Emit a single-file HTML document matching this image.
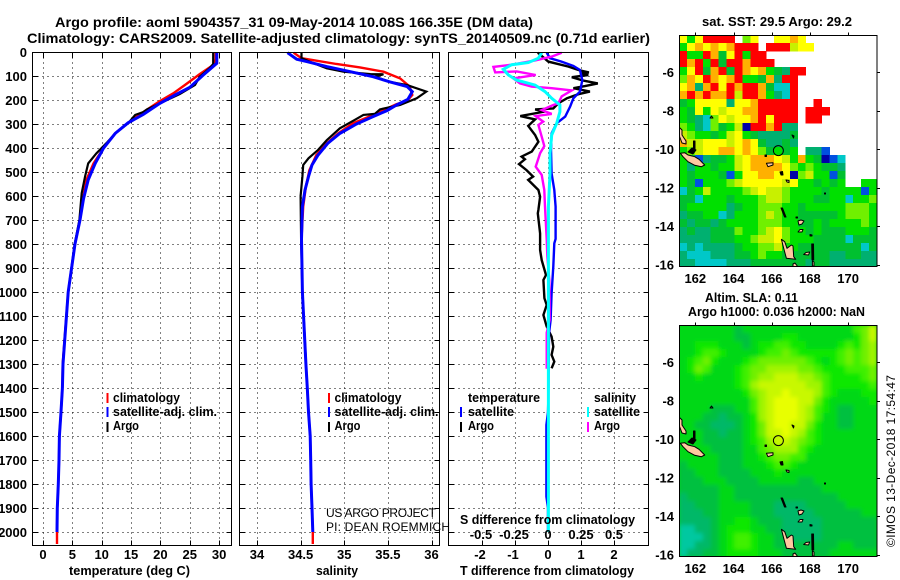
<!DOCTYPE html>
<html>
<head>
<meta charset="utf-8">
<title>Argo profile chart</title>
<style>
html,body{margin:0;padding:0;background:#fff;}
svg{display:block;}
text{font-family:"Liberation Sans",sans-serif;fill:#000;}
.b{font-weight:bold;font-size:13px;}
.t{font-weight:normal;font-size:12px;}
</style>
</head>
<body>
<svg id="chart" xmlns="http://www.w3.org/2000/svg" width="900" height="580" viewBox="0 0 900 580">
<defs>
<clipPath id="clip-map1"><rect x="679" y="35" width="198" height="232"/></clipPath>
<clipPath id="clip-map2"><rect x="679" y="325" width="198" height="232"/></clipPath>
<filter id="soft" x="-5%" y="-5%" width="110%" height="110%"><feGaussianBlur stdDeviation="2"/></filter>
<g id="islands" stroke="#000" stroke-width="1" fill="#ffc8a0" stroke-linejoin="round">
<polygon points="0,92 3,95 3,100 7,106 7,109 3,108 0,100"/>
<polygon points="1.4,118.3 5.7,117.7 9,120 15.7,121.7 20,124.3 25.7,130 22.4,131.7 15.7,130.3 9,126.7 4,121.7"/>
<polygon points="14.5,106 16,106 16,115 14.5,115" fill="#000"/>
<polygon points="9,117 13,113 17,115 14,119" fill="#000"/>
<polygon points="31,83 32.5,81 34,83" fill="none"/>
<polygon points="87.4,128.3 94,127.7 94,130 89,131.7"/>
<polygon points="86,120 87.5,120 87.5,121.5 86,121.5" fill="#000"/>
<polygon points="101,137 103.5,136.5 104,140 102,140" fill="#000"/>
<polygon points="107,145 110,145.5 110,147.5 108,147"/>
<polygon points="113,100 115,101 114.5,103" fill="#000"/>
<polygon points="145.5,158 146.5,158 146.5,159 145.5,159" fill="#000"/>
<polygon points="102,173 103.5,173 107,182 105.5,182" fill="#000"/>
<polygon points="117,182 118.5,182 118.5,183 117,183" fill="#000"/>
<polygon points="119,186 122,185 125,186 123,189 120,190"/>
<polygon points="119,197 121,194.5 124,194.5 123,197"/>
<polygon points="131,199.5 133,200 133,201 131,201" fill="#000"/>
<polygon points="102.4,204.3 105.7,206.7 108,213.3 112.4,210 114,211 114.7,221.7 116.7,224.3 107.4,223.3 104.7,213.3"/>
<polygon points="124.7,219.5 127,217.5 130.7,217 129.5,220"/>
<polygon points="132.7,209 134.5,209 134.7,225 133,225" fill="#000"/>
<polygon points="114,229 116,228 119,232 114,233"/>
<polygon points="133.4,226 135,227 135,231 133.4,231"/>
</g>
</defs>

<rect x="0" y="0" width="900" height="580" fill="#fff"/>

<g>
<text class="b" x="55" y="27" textLength="478" lengthAdjust="spacingAndGlyphs" style="font-size:14px">Argo profile: aoml 5904357_31 09-May-2014 10.08S 166.35E (DM data)</text>
<text class="b" x="27" y="43" textLength="623" lengthAdjust="spacingAndGlyphs" style="font-size:14px">Climatology: CARS2009. Satellite-adjusted climatology: synTS_20140509.nc (0.71d earlier)</text>
</g>

<g id="panel-t"></g>
<g id="panel-s"></g>
<g id="panel-d"></g>
<g id="map1"></g>
<g id="map2"></g>

<g><text class="b" x="69" y="575" textLength="121" lengthAdjust="spacingAndGlyphs">temperature (deg C)</text></g>
<g><text class="b" x="316" y="575" textLength="42" lengthAdjust="spacingAndGlyphs">salinity</text></g>
<g><text class="b" x="460" y="575" textLength="174" lengthAdjust="spacingAndGlyphs">T difference from climatology</text></g>
<g><text class="b" x="460" y="524" textLength="175" lengthAdjust="spacingAndGlyphs">S difference from climatology</text></g>

<g>
<rect x="106.5" y="393" width="2" height="10" fill="#ff0000"/>
<text class="b" x="113" y="402" textLength="67" lengthAdjust="spacingAndGlyphs">climatology</text>
<rect x="106.5" y="407" width="2" height="10" fill="#0000ff"/>
<text class="b" x="113" y="416" textLength="104" lengthAdjust="spacingAndGlyphs">satellite-adj. clim.</text>
<rect x="106.5" y="422" width="2" height="10" fill="#000"/>
<text class="b" x="113" y="430" textLength="26" lengthAdjust="spacingAndGlyphs">Argo</text>
</g>
<g>
<rect x="328" y="393" width="2" height="10" fill="#ff0000"/>
<text class="b" x="334.5" y="402" textLength="67" lengthAdjust="spacingAndGlyphs">climatology</text>
<rect x="328" y="407" width="2" height="10" fill="#0000ff"/>
<text class="b" x="334.5" y="416" textLength="104" lengthAdjust="spacingAndGlyphs">satellite-adj. clim.</text>
<rect x="328" y="422" width="2" height="10" fill="#000"/>
<text class="b" x="334.5" y="430" textLength="26" lengthAdjust="spacingAndGlyphs">Argo</text>
</g>
<g>
<text class="b" x="468" y="402" textLength="72" lengthAdjust="spacingAndGlyphs">temperature</text>
<text class="b" x="594" y="402" textLength="42" lengthAdjust="spacingAndGlyphs">salinity</text>
<rect x="460" y="407" width="2" height="10" fill="#0000ff"/>
<text class="b" x="468" y="416" textLength="46" lengthAdjust="spacingAndGlyphs">satellite</text>
<rect x="460" y="422" width="2" height="10" fill="#000"/>
<text class="b" x="468" y="430" textLength="26" lengthAdjust="spacingAndGlyphs">Argo</text>
<rect x="587" y="407" width="2" height="10" fill="#00ffff"/>
<text class="b" x="594" y="416" textLength="46" lengthAdjust="spacingAndGlyphs">satellite</text>
<rect x="587" y="422" width="2" height="10" fill="#ff00ff"/>
<text class="b" x="594" y="430" textLength="26" lengthAdjust="spacingAndGlyphs">Argo</text>
</g>

<g>
<text class="t" x="326" y="517" textLength="110" lengthAdjust="spacing">US ARGO PROJECT</text>
<text class="t" x="326" y="531" textLength="124" lengthAdjust="spacing">PI: DEAN ROEMMICH</text>
</g>

<text class="b" x="702" y="26" textLength="150" lengthAdjust="spacingAndGlyphs">sat. SST: 29.5 Argo: 29.2</text>
<text class="b" x="705" y="302" textLength="93" lengthAdjust="spacingAndGlyphs">Altim. SLA: 0.11</text>
<text class="b" x="688" y="316" textLength="177" lengthAdjust="spacingAndGlyphs">Argo h1000: 0.036 h2000: NaN</text>
<text class="t" transform="translate(895,547) rotate(-90)" x="0" y="0" textLength="172" lengthAdjust="spacing">©IMOS 13-Dec-2018 17:54:47</text>
</svg>

<script>
/* axis ticks */
var depthTicks = [0,100,200,300,400,500,600,700,800,900,1000,1100,1200,1300,1400,1500,1600,1700,1800,1900,2000];
var tempTicks = [0,5,10,15,20,25,30];
var salTicks = [34,34.5,35,35.5,36];
var tDiffTicks = [-2,-1,0,1,2];
var sDiffTicks = [-0.5,-0.25,0,0.25,0.5];
var sDiffLabels = ['-0.5','-0.25','0','0.25','0.5'];
var lonTicks = [162,164,166,168,170];
var latTicks = [-6,-8,-10,-12,-14,-16];

/* temperature profiles */
var tempClimDepth = [0,30,54,92,137,172,205,250,295,339,401,464,533,612,700,800,1000,1300,1400,1500,1600,1700,1800,1900,2000,2050];
var tempClim = [29.4,29.4,29,26.7,24.2,22.2,19.9,17.1,14.5,12.3,10.3,8.6,7.4,6.8,6.3,5.45,4.3,3.35,3.3,3.07,2.8,2.73,2.6,2.44,2.38,2.38];
var tempSatDepth = [0,47,96,147,179,214,260,295,339,401,464,533,612,700,800,1000,1300,1400,1500,1600,1700,1800,1900,2000];
var tempSat = [29.6,29.6,27.3,25,22.5,19.9,17.1,14.5,12.3,10.3,8.9,7.7,6.9,6.3,5.45,4.3,3.4,3.3,3.07,2.8,2.73,2.6,2.44,2.38];
var tempArgoDepth = [0,50,67,103,137,175,207,239,250,262,297,339,380,422,464,520,588,700,800,1000,1290];
var tempArgo = [29,29,28.4,26.7,25.9,23.3,20.5,17.7,17.1,15.7,14.5,12.3,10.8,9.1,7.7,7.15,6.6,6.2,5.4,4.3,3.4];

/* salinity profiles */
var salClimDepth = [3,26,33,50,64,82,110,144,179,204,217,242,267,297,339,381,429,492,561,644,780,1000,1300,1400,1500,1600,1700,1800,1900,2000,2050];
var salClim = [34.42,34.51,34.63,34.91,35.18,35.45,35.64,35.75,35.78,35.72,35.6,35.45,35.3,35.1,34.93,34.8,34.68,34.6,34.56,34.53,34.51,34.52,34.56,34.577,34.59,34.61,34.615,34.62,34.63,34.64,34.64];
var salSatDepth = [3,30,40,61,82,103,124,144,165,197,221,244,269,300,339,381,429,471,519,575,644,779,1000,1300,1400,1500,1600,1700,1800,1900,2000];
var salSat = [34.35,34.455,34.57,34.8,35.07,35.33,35.52,35.72,35.78,35.73,35.6,35.49,35.33,35.14,34.95,34.81,34.7,34.63,34.59,34.55,34.52,34.51,34.52,34.56,34.577,34.59,34.61,34.615,34.62,34.63,34.64];
var salArgoDepth = [3,26,44,68,82,92,93,103,124,138,165,193,221,239,258,262,283,318,367,408,443,471,519,600,780,1000,1290];
var salArgo = [34.51,34.51,34.63,34.8,34.99,35.3,35.45,35.35,35.52,35.72,35.94,35.83,35.64,35.41,35.35,35.22,35.12,34.95,34.8,34.7,34.59,34.53,34.52,34.5,34.505,34.52,34.56];

/* differences from climatology */
var dTArgoDepth = [3,40,61,75,85,89,96,105,119,131,142,151,165,176,193,214,235,239,248,267,281,308,346,374,415,436,447,467,492,519,533,575,603,658,672,756,825,867,929,950,1026,1054,1096,1144,1186,1228,1262,1290,1318];
var dTArgo = [-0.31,0.01,0.62,0.92,1.24,0.97,1.22,0.72,1.07,1.51,1.12,0.77,1.27,0.92,0.57,0.31,0.16,-0.39,-0.09,-0.84,-0.39,-0.6,-0.39,-0.29,-0.49,-0.8,-0.7,-0.88,-0.65,-0.45,-0.6,-0.29,-0.24,-0.29,-0.31,-0.24,-0.24,-0.19,-0.06,-0.14,-0.11,-0.04,-0.14,-0.04,0.11,0.16,0.11,0.19,0.11];
var dTSatDepth = [3,26,40,58,75,117,165,193,228,269,297,339,408,506,575,644,779,797,894,1006,1117,1172,1450,1500,1554,1853,1900,2000];
var dTSat = [-0.04,0.06,0.41,0.77,0.97,1.04,0.97,0.77,0.67,0.52,0.26,0.11,0.09,0.11,0.19,0.23,0.23,0.19,0.16,0.11,0.08,0.03,0.01,0,-0.05,-0.05,0,0];
var dSArgoDepth = [3,19,35,53,62,85,81,96,110,131,144,151,160,185,214,221,242,258,267,290,304,353,392,422,478,512,575,644,779,850,950,1030,1117,1170,1320];
var dSArgo = [0.104,0.028,-0.098,-0.275,-0.414,-0.4,-0.237,-0.093,-0.263,-0.212,-0.124,0.028,0.18,0.104,0.078,0.04,-0.048,0.028,-0.093,-0.036,-0.073,-0.048,-0.028,-0.06,-0.093,-0.048,-0.028,-0.023,-0.01,-0.005,0.01,0.012,0.012,-0.01,-0.01];
var dSSatDepth = [3,26,44,53,72,96,117,138,165,193,221,249,297,346,422,506,644,779,2000];
var dSSat = [-0.048,-0.073,-0.149,-0.275,-0.339,-0.3,-0.237,-0.098,-0.023,0.028,0.09,0.09,0.066,0.028,0.015,0.015,0.003,0.003,0.003];

/* sea-surface temperature levels by cell, '.' = no data, a = hottest */
var sstRows = [
"858aaaa.68..8898.........",
"5898989aaa.aaa788........",
"a55a948a5aa..............",
"a9a5a4aa9aaa.............",
"58a49a4a989543aa.........",
"698a989a55493aa..........",
"8939a8a9aa9422a..........",
"9a9a99a7aa9532a..........",
"4588883889aaaaa..a.......",
"5485878899aaaaa.aaa......",
"5432687889a8aaa.aa.......",
"653264570aa9a33..........",
"765545785433334..........",
"977888789843343..........",
"567889989864545.331......",
"541344578999875954012....",
"535545578999986565443....",
"545554158899880675514....",
"541555678888878554545..55",
"2457555567877655554555515",
"4425554555677655544552556",
"4555553455666554555556665",
"3445523555676554444456665",
"4344345555666554454555565",
"3433444655678655454445554",
"3333444556778655544442444",
"2323333455667554444444424",
"3222333445655444444334433",
"3322223334444444344333333"
];
/* sea-level anomaly levels by cell */
var slaRows = [
"3333333233333333333333568",
"3333333223333443333333468",
"3344433323445544333345467",
"3345543333455654444456567",
"3456433345666666543456567",
"3465333456677776654445556",
"3343333456778887765444456",
"3333333457888888775444445",
"3333333346788988875433344",
"3333333335789998864333334",
"3333222335789998754322333",
"3332212234789998753322333",
"3322111234689988643322333",
"3332212234688987543333333",
"3332222234578876543333333",
"3333222233567775433333333",
"3333322233456655333333333",
"2333322233345543333333333",
"2233322223334333333333333",
"2223332222333332233333333",
"2222233222222222223333333",
"1222233222222222222233333",
"1122233332221111222223333",
"1112233332221111122222233",
"1111233443222111112222222",
"0011234443322111112222222",
"0001234554332211112222222",
"0011234554332222222233222",
"0112234444333222222333333"
];
var argoLon = 166.35;
var argoLat = -10.08;

/* colour scales */
var sstColors = ['#0000a8','#0050e0','#00c8c8','#00b070','#00c030','#00e000','#70f000','#c8f000','#ffff00','#ffb000','#ff0000'];
var slaColors = ['#00c8a0','#00b868','#00c040','#00d814','#10e800','#40f000','#70f000','#a0f400','#c8f800','#e8ff00'];

var NS = 'http://www.w3.org/2000/svg';

function tag(kind, name, parent, attrs) {
  var el = document.createElementNS(NS, kind);
  
  
  for (var k in attrs) { el.setAttribute(k, attrs[k]); }
  parent.appendChild(el);
  return el;
}

/* axis functions */
function depthY(d) { return 52 + 0.24 * d; }
function tempX(t) { return 43 + 5.87 * t; }
function salX(s) { return 257 + 87.25 * (s - 34); }
function tDiffX(t) { return 548 + 33 * t; }
function sDiffX(s) { return 548 + 132 * s; }
function lonX(lon) { return 695.3 + 19.1 * (lon - 162); }
function latY1(lat) { return 72 + 19.27 * (-6 - lat); }
function latY2(lat) { return 362 + 19.27 * (-6 - lat); }

function label(parent, name, x, y, txt, anchor) {
  var t = tag('text', name, parent, {x: x, y: y, 'class': 'b', 'text-anchor': anchor});
  t.textContent = txt;
  return t;
}

function panelFrame(g, left, right, xTicks, xFn) {
  var top = 52.5, bottom = 545.5;
  depthTicks.forEach(function (d) {
    var y = Math.round(depthY(d)) + 0.5;
    if (d > 0) {
      tag('line', 'depth-gridline', g, {x1: left, x2: right, y1: y, y2: y, stroke: '#000', 'stroke-width': 1, 'stroke-dasharray': '1 4'});
    }
    tag('line', 'depth-tick-left', g, {x1: left, x2: left + 5, y1: y, y2: y, stroke: '#000', 'stroke-width': 1});
    tag('line', 'depth-tick-right', g, {x1: right - 5, x2: right, y1: y, y2: y, stroke: '#000', 'stroke-width': 1});
  });
  xTicks.forEach(function (v) {
    var x = Math.round(xFn(v)) + 0.5;
    tag('line', 'x-gridline', g, {x1: x, x2: x, y1: top, y2: bottom, stroke: '#000', 'stroke-width': 1, 'stroke-dasharray': '1 4'});
    tag('line', 'x-tick-bottom', g, {x1: x, x2: x, y1: bottom - 5, y2: bottom, stroke: '#000', 'stroke-width': 1});
    tag('line', 'x-tick-top', g, {x1: x, x2: x, y1: top, y2: top + 5, stroke: '#000', 'stroke-width': 1});
  });
}

function panelBox(g, left, right) {
  tag('rect', 'panel-border', g, {x: left, y: 52.5, width: right - left, height: 493, fill: 'none', stroke: '#000', 'stroke-width': 1});
}

function profile(g, name, depths, values, xFn, color, width) {
  var pts = depths.map(function (d, i) {
    return xFn(values[i]).toFixed(1) + ',' + depthY(d).toFixed(1);
  }).join(' ');
  tag('polyline', name, g, {points: pts, fill: 'none', stroke: color, 'stroke-width': width, 'stroke-linejoin': 'miter'});
}

/* temperature panel */
var pT = document.getElementById('panel-t');
panelFrame(pT, 32.5, 231.5, tempTicks, tempX);
profile(pT, 'temperature-climatology-line', tempClimDepth, tempClim, tempX, '#ff0000', 2.4);
profile(pT, 'temperature-argo-line', tempArgoDepth, tempArgo, tempX, '#000000', 2.2);
profile(pT, 'temperature-satellite-line', tempSatDepth, tempSat, tempX, '#0000ff', 3);
panelBox(pT, 32.5, 231.5);
depthTicks.forEach(function (d) {
  label(pT, 'depth-tick-label', 27, depthY(d) + 5, String(d), 'end');
});
tempTicks.forEach(function (v) {
  label(pT, 'temperature-tick-label', tempX(v), 559, String(v), 'middle');
});

/* salinity panel */
var pS = document.getElementById('panel-s');
panelFrame(pS, 239.5, 439.5, salTicks, salX);
profile(pS, 'salinity-climatology-line', salClimDepth, salClim, salX, '#ff0000', 2.4);
profile(pS, 'salinity-argo-line', salArgoDepth, salArgo, salX, '#000000', 2.2);
profile(pS, 'salinity-satellite-line', salSatDepth, salSat, salX, '#0000ff', 3);
panelBox(pS, 239.5, 439.5);
salTicks.forEach(function (v) {
  label(pS, 'salinity-tick-label', salX(v), 559, String(v), 'middle');
});

/* difference panel */
var pD = document.getElementById('panel-d');
panelFrame(pD, 448.5, 648.5, tDiffTicks, tDiffX);
profile(pD, 't-diff-argo-line', dTArgoDepth, dTArgo, tDiffX, '#000000', 2.4);
profile(pD, 't-diff-satellite-line', dTSatDepth, dTSat, tDiffX, '#0000ff', 2.4);
profile(pD, 's-diff-argo-line', dSArgoDepth, dSArgo, sDiffX, '#ff00ff', 2.4);
profile(pD, 's-diff-satellite-line', dSSatDepth, dSSat, sDiffX, '#00ffff', 3);
panelBox(pD, 448.5, 648.5);
tDiffTicks.forEach(function (v) {
  label(pD, 't-diff-tick-label', tDiffX(v) - (v < 0 ? 2 : 0), 559, String(v), 'middle');
});
sDiffTicks.forEach(function (v, i) {
  label(pD, 's-diff-tick-label', sDiffX(v) - (v < 0 ? 1 : 0), 539, sDiffLabels[i], 'middle');
});

/* maps */
function drawMap(g, rows, colors, top, clipId, latFn, smooth, bg) {
  var left = 679, w = 198, h = 232;
  var cw = w / 25, ch = h / rows.length;
  var clip = tag('g', 'map-clip', g, {'clip-path': 'url(#' + clipId + ')'});
  if (bg) {
    tag('rect', 'map-background', clip, {x: left, y: top, width: w, height: h, fill: bg});
  }
  var cells = tag('g', 'map-cells', clip, smooth ? {filter: 'url(#soft)'} : {'shape-rendering': 'crispEdges'});
  rows.forEach(function (row, r) {
    for (var c = 0; c < row.length; c++) {
      var ch_ = row.charAt(c);
      if (ch_ === '.') { continue; }
      var lvl = parseInt(ch_, 36);
      tag('rect', 'map-cell', cells, {
        x: (left + c * cw).toFixed(2), y: top + r * ch,
        width: (cw + 0.4).toFixed(2), height: ch + 0.4, fill: colors[lvl]
      });
    }
  });
  var isl = tag('use', 'islands', clip, {transform: 'translate(' + left + ',' + top + ')'});
  isl.setAttribute('href', '#islands');
  tag('circle', 'argo-position-marker', clip, {cx: lonX(argoLon), cy: latFn(argoLat), r: 5, fill: 'none', stroke: '#000', 'stroke-width': 1});
  var boxL = left + 0.5, boxR = left + w - 1 + 0.5 + 0.5, boxT = top + 0.5, boxB = top + h - 0.5;
  tag('rect', 'map-border', g, {x: boxL, y: boxT, width: boxR - boxL, height: boxB - boxT, fill: 'none', stroke: '#000', 'stroke-width': 1});
  latTicks.forEach(function (lat) {
    var y = Math.round(latFn(lat)) + 0.5;
    tag('line', 'lat-tick-right', g, {x1: boxR, x2: boxR + 3, y1: y, y2: y, stroke: '#000', 'stroke-width': 1});
    label(g, 'lat-tick-label', 674, latFn(lat) + 5, String(lat), 'end');
  });
  lonTicks.forEach(function (lon) {
    var x = Math.round(lonX(lon)) + 0.5;
    tag('line', 'lon-tick-top', g, {x1: x, x2: x, y1: boxT - 3, y2: boxT, stroke: '#000', 'stroke-width': 1});
    label(g, 'lon-tick-label', lonX(lon), top + h + 16, String(lon), 'middle');
  });
}

drawMap(document.getElementById('map1'), sstRows, sstColors, 35, 'clip-map1', latY1, false, null);
drawMap(document.getElementById('map2'), slaRows, slaColors, 325, 'clip-map2', latY2, true, '#00d814');
</script>
</body>
</html>
